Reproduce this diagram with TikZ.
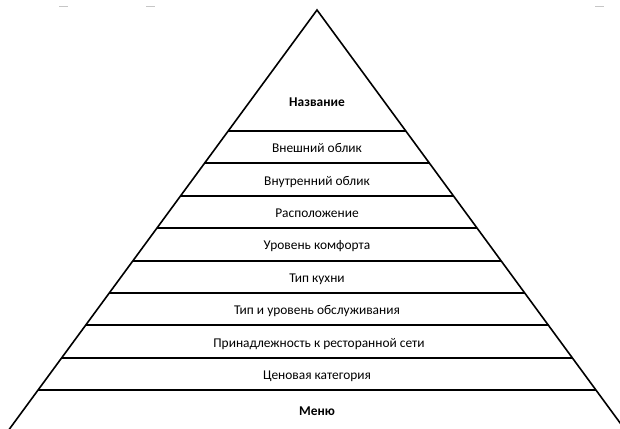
\documentclass[tikz,border=0pt]{standalone}
\usepackage{fontspec}
\setmainfont{Carlito}
\begin{document}
\begin{tikzpicture}[x=1pt,y=-1pt,
  edge/.style={line width=1.6pt, line join=miter},
  sep/.style={line width=1.9pt},
  lbl/.style={font=\fontsize{13.4}{16}\selectfont, anchor=base, inner sep=0pt},
  blbl/.style={lbl, font=\fontsize{13.4}{16}\selectfont\bfseries},
  tick/.style={draw=gray!45, line width=0.8pt}]
\clip (0,0) rectangle (620,428);
% faint marks at top
\coordinate (t1a) at (59,6); \coordinate (t1b) at (68,6);
\coordinate (t2a) at (146,6); \coordinate (t2b) at (155,6);
\coordinate (t3a) at (595,6); \coordinate (t3b) at (604,6);
\draw[tick] (t1a) -- (t1b);
\draw[tick] (t2a) -- (t2b);
\draw[tick] (t3a) -- (t3b);
% pyramid
\coordinate (apex) at (317,10);
\coordinate (bl) at ({317-0.734*440},450);
\coordinate (br) at ({317+0.734*440},450);
\draw[edge] (bl) -- (apex) -- (br);
\foreach \i in {0,...,8} {
  \pgfmathsetmacro\yy{131+32.4*\i}
  \pgfmathsetmacro\hw{0.734*(\yy-10)}
  \coordinate (L\i) at ({317-\hw},\yy);
  \coordinate (R\i) at ({317+\hw},\yy);
  \draw[sep] (L\i) -- (R\i);
}
% labels
\node[blbl] (n0) at (317,106) {Название};
\node[lbl] (n1) at (317,152.6) {Внешний облик};
\node[lbl] (n2) at (317,185.0) {Внутренний облик};
\node[lbl] (n3) at (317,217.4) {Расположение};
\node[lbl] (n4) at (317,249.8) {Уровень комфорта};
\node[lbl] (n5) at (317,282.2) {Тип кухни};
\node[lbl] (n6) at (317,314.6) {Тип и уровень обслуживания};
\node[lbl] (n7) at (319,347.0) {Принадлежность к ресторанной сети};
\node[lbl] (n8) at (317,379.4) {Ценовая категория};
\node[blbl] (n9) at (317,415.3) {Меню};
\end{tikzpicture}
\end{document}
